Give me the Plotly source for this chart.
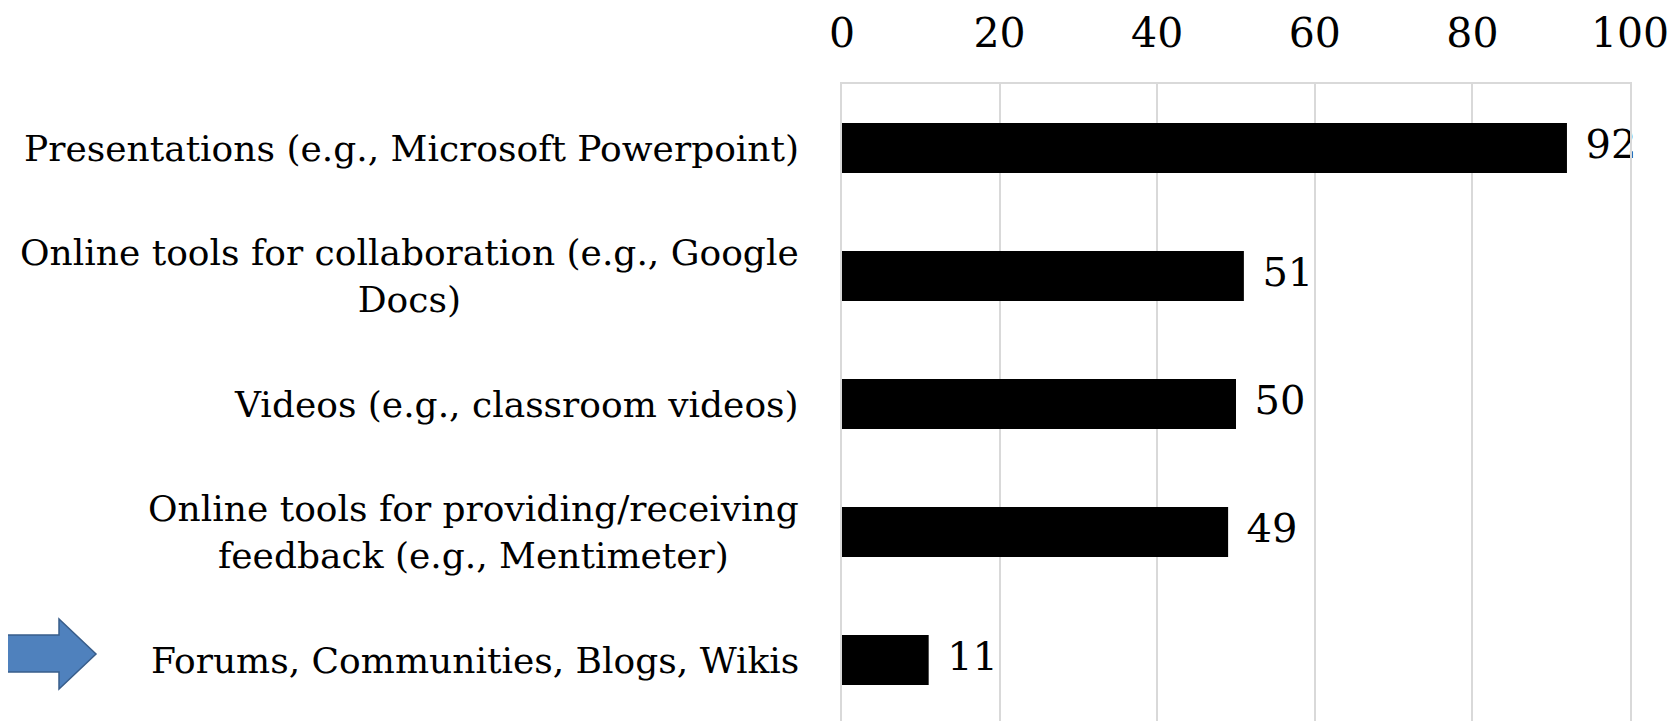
import plotly.graph_objects as go

categories = [
    "Presentations (e.g., Microsoft Powerpoint)",
    "Online tools for collaboration (e.g., Google<br>Docs)",
    "Videos (e.g., classroom videos)",
    "Online tools for providing/receiving<br>feedback (e.g., Mentimeter)",
    "Forums, Communities, Blogs, Wikis",
]
values = [92, 51, 50, 49, 11]
tick_vals = [0, 20, 40, 60, 80, 100]

FONT = "DejaVu Serif, serif"
W, H = 1679, 721
OFF = 8  # default page body margin
L, R, T, B = 842 - OFF, 49 + OFF, 84 - OFF, 5

fig = go.Figure()
fig.add_trace(go.Bar(
    y=categories, x=values, orientation="h",
    marker=dict(color="#000000", line=dict(width=0)),
    width=0.39,
    hoverinfo="skip",
))
fig.add_trace(go.Scatter(
    y=categories, x=values, mode="markers+text",
    text=[str(v) for v in values], textposition="middle right",
    marker=dict(size=28, color="rgba(0,0,0,0)"),
    textfont=dict(family=FONT, size=40, color="#000000"),
    cliponaxis=False, hoverinfo="skip",
))

for c in categories:
    fig.add_annotation(
        x=0, y=c, xref="x", yref="y", text=c, showarrow=False,
        xanchor="right", yanchor="middle", align="center", xshift=-41,
        font=dict(family=FONT, size=36, color="#000000"),
    )

# blue block arrow pointing at the last category (paper coordinates)
pw = W - L - R
ph = H - T - B
def px(x):
    return (x - OFF - L) / pw
def py(y):
    return (H - B - (y - OFF)) / ph
pts = [(0, 635), (59, 635), (59, 619), (96, 654), (59, 689), (59, 672), (0, 672)]
path = "M " + " L ".join(f"{px(a):.5f},{py(b):.5f}" for a, b in pts) + " Z"
fig.add_shape(type="path", path=path, xref="paper", yref="paper",
              fillcolor="#4f81bd", line=dict(color="#385d8a", width=1.5))

fig.update_layout(
    width=W, height=H,
    margin=dict(l=L, r=R, t=T, b=B, autoexpand=False),
    paper_bgcolor="white", plot_bgcolor="white",
    showlegend=False,
    font=dict(family=FONT, color="#000000"),
    xaxis=dict(
        side="top", range=[0, 100], tickvals=tick_vals,
        showgrid=True, gridcolor="#d9d9d9", gridwidth=2,
        showline=True, linecolor="#d9d9d9", linewidth=2,
        zeroline=False, ticks="", automargin=False,
        tickfont=dict(family=FONT, size=41, color="#000000"),
        ticklabelstandoff=19,
    ),
    yaxis=dict(
        categoryorder="array", categoryarray=categories,
        autorange="reversed", automargin=False,
        showticklabels=False, showgrid=False,
        showline=True, mirror=True, linecolor="#d9d9d9", linewidth=2,
        zeroline=False, ticks="",
    ),
)

fig.write_html("out.html")
